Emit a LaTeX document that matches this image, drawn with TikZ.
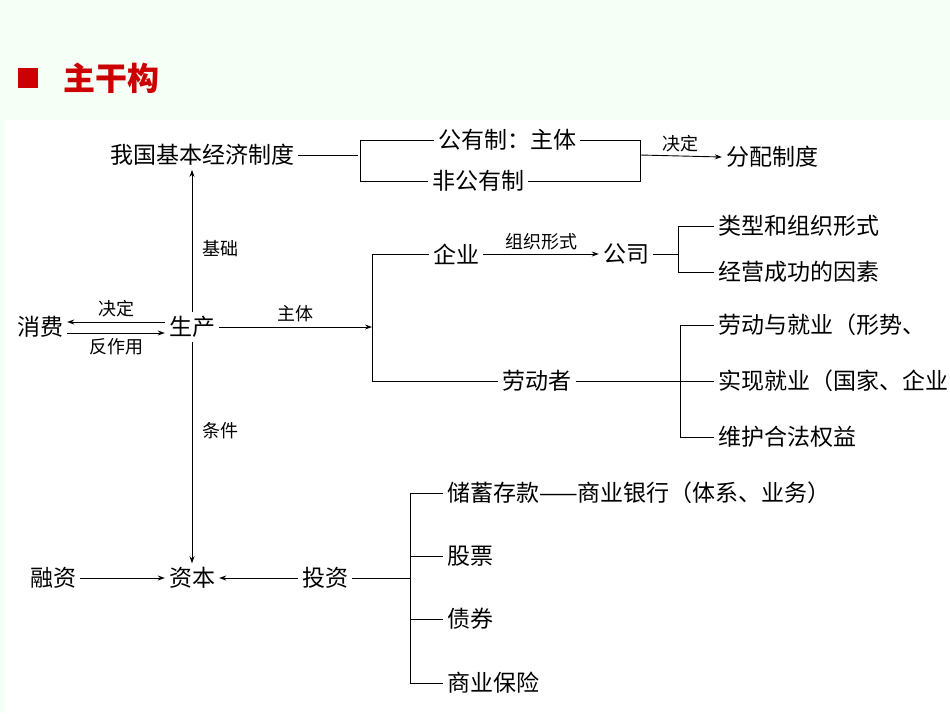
\documentclass[tikz,border=0pt]{standalone}
\usepackage{fontspec}
\setmainfont{Noto Sans CJK SC}
\usetikzlibrary{arrows.meta}
\begin{document}
\begin{tikzpicture}[x=1pt,y=-1pt,
  t/.style={inner sep=4pt,font=\fontsize{23}{25}\selectfont},
  lt/.style={t,anchor=west},
  lab/.style={inner sep=2pt,font=\fontsize{18}{20}\selectfont},
  ln/.style={line width=0.9pt},
  ar/.style={ln,-{Stealth[length=7pt,width=5pt]}}]
\useasboundingbox (0,0) rectangle (950,713);
\fill[green!4!white] (0,0) rectangle (950,713);
\fill[white] (5,120) rectangle (950,713);
\fill[red!80!black] (18,68) rectangle (38,88);
\node[anchor=west,text=red!80!black,font=\fontsize{32}{34}\selectfont\bfseries] (title) at (60,78) {主干构};
\begin{scope}
\clip (0,0) rectangle (950,713);
\node[t] (zd) at (202,155) {我国基本经济制度};
\node[t] (gy) at (507,140) {公有制：主体};
\node[t] (fg) at (478,181) {非公有制};
\node[t] (fp) at (772,157) {分配制度};
\draw[ln] (zd.east) -- (358,155);
\draw[ln] (gy.west) -| (360,181) -- (fg.west);
\draw[ln] (gy.east) -| (640,181) -- (fg.east);
\draw[ar] (640,155) -- (fp.west) node[lab,midway,above=2pt] (jd1) {决定};
\node[t] (sc) at (192,327) {生产};
\node[t] (xf) at (40,327) {消费};
\draw[ar] (sc.north) -- (sc.north|-zd.south) node[lab,pos=0.45,right=8pt] (jc) {基础};
\node[t] (zb) at (192,578) {资本};
\draw[ar] (sc.south) -- (zb.north) node[lab,pos=0.4,right=8pt] (tj) {条件};
\draw[ar] (sc.west|-0,322) -- (xf.east|-0,322) node[lab,midway,above=3pt] (jd2) {决定};
\draw[ar] (xf.east|-0,333) -- (sc.west|-0,333) node[lab,midway,below=3pt] (fzy) {反作用};
\coordinate (b1) at (372,327);
\draw[ar] (sc.east) -- (b1) node[lab,midway,above=3pt] (zt) {主体};
\node[t] (qy) at (456,254) {企业};
\node[t] (ld) at (537,381) {劳动者};
\draw[ln] (qy.west) -| (372,381) -- (ld.west);
\node[t] (gs) at (626,254) {公司};
\draw[ar] (qy.east) -- (gs.west) node[lab,midway,above=2pt] (zz) {组织形式};
\node[lt] (lx) at (714,226) {类型和组织形式};
\node[lt] (jy) at (714,272) {经营成功的因素};
\draw[ln] (gs.east) -- (678,254);
\draw[ln] (lx.west) -| (678,272) -- (jy.west);
\node[lt] (l1) at (714,325) {劳动与就业（形势、};
\node[lt] (l2) at (714,381) {实现就业（国家、企业};
\node[lt] (l3) at (714,437) {维护合法权益};
\draw[ln] (ld.east) -- (l2.west);
\draw[ln] (l1.west) -| (680,437) -- (l3.west);
\node[t] (rz) at (53,578) {融资};
\node[t] (tz) at (325,578) {投资};
\draw[ar] (rz.east) -- (zb.west);
\draw[ar] (tz.west) -- (zb.east);
\node[lt] (s1) at (443,493) {储蓄存款——商业银行（体系、业务）};
\node[lt] (s2) at (443,556) {股票};
\node[lt] (s3) at (443,619) {债券};
\node[lt] (s4) at (443,683) {商业保险};
\draw[ln] (tz.east) -- (410,578);
\draw[ln] (s1.west) -| (410,683) -- (s4.west);
\draw[ln] (410,556) -- (s2.west);
\draw[ln] (410,619) -- (s3.west);
\end{scope}
\end{tikzpicture}
\end{document}
